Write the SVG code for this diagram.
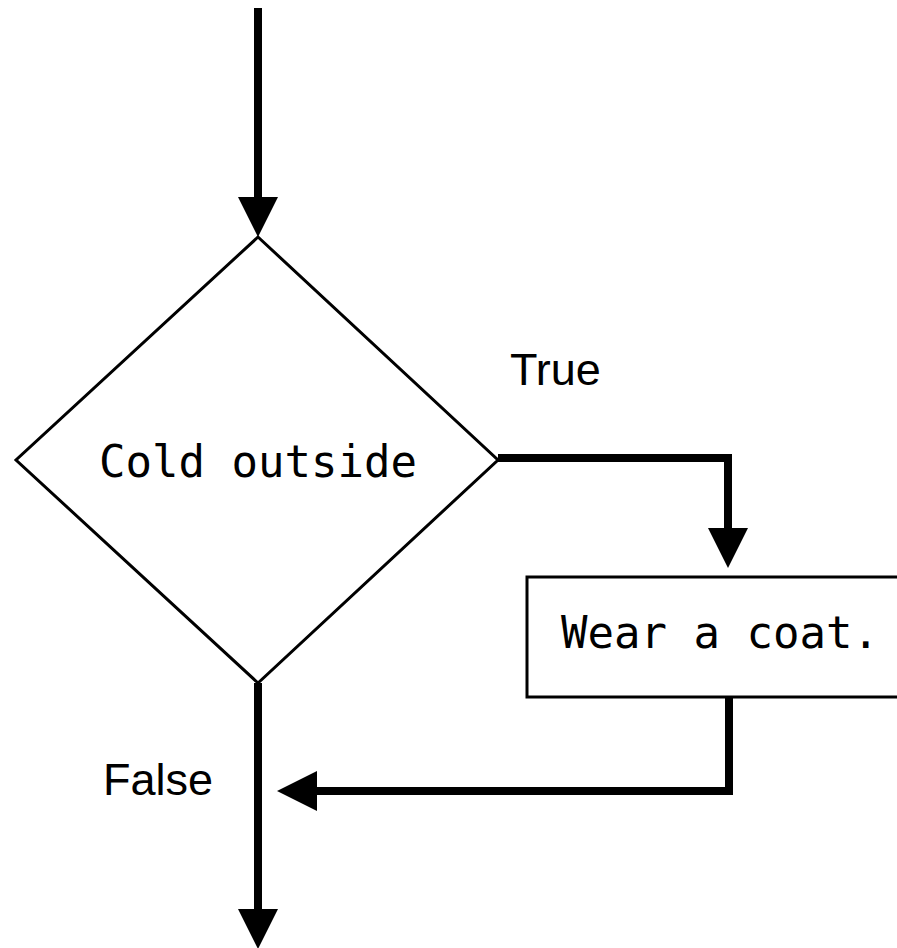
<svg xmlns="http://www.w3.org/2000/svg" width="897" height="948" viewBox="0 0 897 948">
<style>
.conn{fill:none;stroke:#000;stroke-width:8;stroke-linejoin:miter}
.shape{fill:#fff;stroke:#000;stroke-width:3}
.mono{font-family:"DejaVu Sans Mono","Liberation Mono",monospace;font-size:44px;fill:#000}
.lbl{font-family:"Liberation Sans",Arial,sans-serif;font-size:45px;fill:#000}
</style>
<defs>
<marker id="ah" markerUnits="userSpaceOnUse" markerWidth="40" markerHeight="40" refX="0" refY="20" orient="auto" overflow="visible">
<path d="M0,0 L40,20 L0,40 Z" fill="#000"/>
</marker>
</defs>
<g id="decision">
<polygon class="shape" points="258,237 498,460 258,683 16,460"/>
<text class="mono" x="258" y="477" text-anchor="middle">Cold outside</text>
</g>
<g id="action">
<rect class="shape" x="527" y="577" width="400" height="120"/>
<text class="mono" x="561" y="648">Wear a coat.</text>
</g>
<g id="connectors">
<path class="conn" d="M258,8 V197" marker-end="url(#ah)"/>
<path class="conn" d="M498,458 H728 V528" marker-end="url(#ah)"/>
<path class="conn" d="M729,697 V791 H317" marker-end="url(#ah)"/>
<path class="conn" d="M258,683 V909" marker-end="url(#ah)"/>
<text class="lbl" x="510" y="385">True</text>
<text class="lbl" x="103" y="795">False</text>
</g>
</svg>
